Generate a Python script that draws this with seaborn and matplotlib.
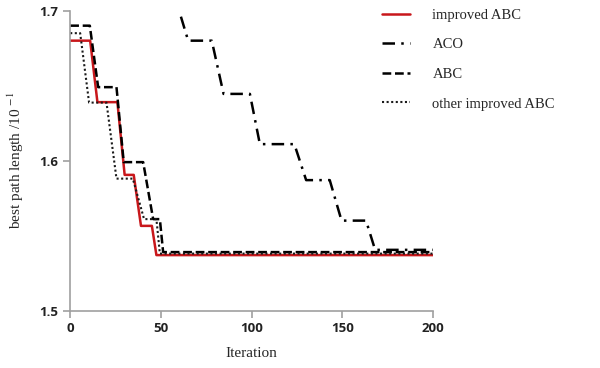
import numpy as np
import matplotlib
matplotlib.use('Agg')
import matplotlib.pyplot as plt
import seaborn as sns
import pandas as pd

sns.set_style('ticks')
plt.rcParams['mathtext.fontset'] = 'stix'

# vertices (iteration, best path length)
improved_x = [0, 11, 15, 26, 30, 35, 39, 45, 47.5, 200]
improved_y = [1.680, 1.680, 1.639, 1.639, 1.5905, 1.5905, 1.5565, 1.5565, 1.537, 1.537]

aco_x = [61, 65, 78, 84.5, 99, 104.5, 123.5, 130, 143, 149.5, 163, 168, 200]
aco_y = [1.696, 1.680, 1.680, 1.6445, 1.6445, 1.611, 1.611, 1.587, 1.587, 1.560, 1.560, 1.5405, 1.5405]

abc_x = [0, 10.8, 15.4, 25.5, 29.5, 40.2, 45.7, 49.4, 51.2, 200]
abc_y = [1.690, 1.690, 1.649, 1.649, 1.599, 1.599, 1.561, 1.561, 1.539, 1.539]

other_x = [0, 5.5, 10.4, 20, 25.5, 34.5, 40.7, 47.5, 49.4, 200]
other_y = [1.685, 1.685, 1.6387, 1.6387, 1.588, 1.588, 1.561, 1.561, 1.538, 1.538]

labels = ['improved ABC', 'ACO', 'ABC', 'other improved ABC']

fig = plt.figure(figsize=(6, 3.68), dpi=100)
ax = fig.add_axes([0.117, 0.156, 0.605, 0.815])

styles = [
    (improved_x, improved_y, '#c8171b', 1.8, '-'),
    (aco_x, aco_y, 'black', 1.8, (0, (5, 2.5, 1, 2.5))),
    (abc_x, abc_y, 'black', 1.8, (0, (3.5, 1.5))),
    (other_x, other_y, '#1a1a1a', 1.5, (0, (1, 1.2))),
]
for (xs, ys, c, lw, ls), lab in zip(styles, labels):
    df = pd.DataFrame({'x': xs, 'y': ys})
    sns.lineplot(data=df, x='x', y='y', ax=ax, color=c, lw=lw,
                 linestyle=ls, estimator=None, sort=False, label=lab)

ax.set_xlim(0, 200)
ax.set_ylim(1.5, 1.7)
ax.set_xticks([0, 50, 100, 150, 200])
ax.set_yticks([1.5, 1.6, 1.7])
ax.set_yticklabels(['1.5', '1.6', '1.7'])
sns.despine(ax=ax)
for s in ['left', 'bottom']:
    ax.spines[s].set_color('#a0a0a0')
    ax.spines[s].set_linewidth(1.2)
ax.tick_params(colors='#a0a0a0', length=5, width=1.2, labelcolor='#222222')
for t in ax.get_xticklabels() + ax.get_yticklabels():
    t.set_fontfamily('Open Sans')
    t.set_fontweight('bold')
    t.set_fontsize(9.5)

ax.set_xlabel('Iteration', family='Liberation Serif', fontsize=11, labelpad=8)
ax.set_ylabel(r'best path length /10 $^{\mathrm{-1}}$', family='Liberation Serif',
              fontsize=11, labelpad=10)

handles, labs = ax.get_legend_handles_labels()
ax.get_legend().remove()
fig.legend(handles, labs, loc='upper left', bbox_to_anchor=(0.615, 1.012),
           frameon=False, prop={'family': 'Liberation Serif', 'size': 10.5},
           handlelength=1.9, labelspacing=1.12, handletextpad=1.55)

plt.savefig('out.png', dpi=100)
plt.close()
